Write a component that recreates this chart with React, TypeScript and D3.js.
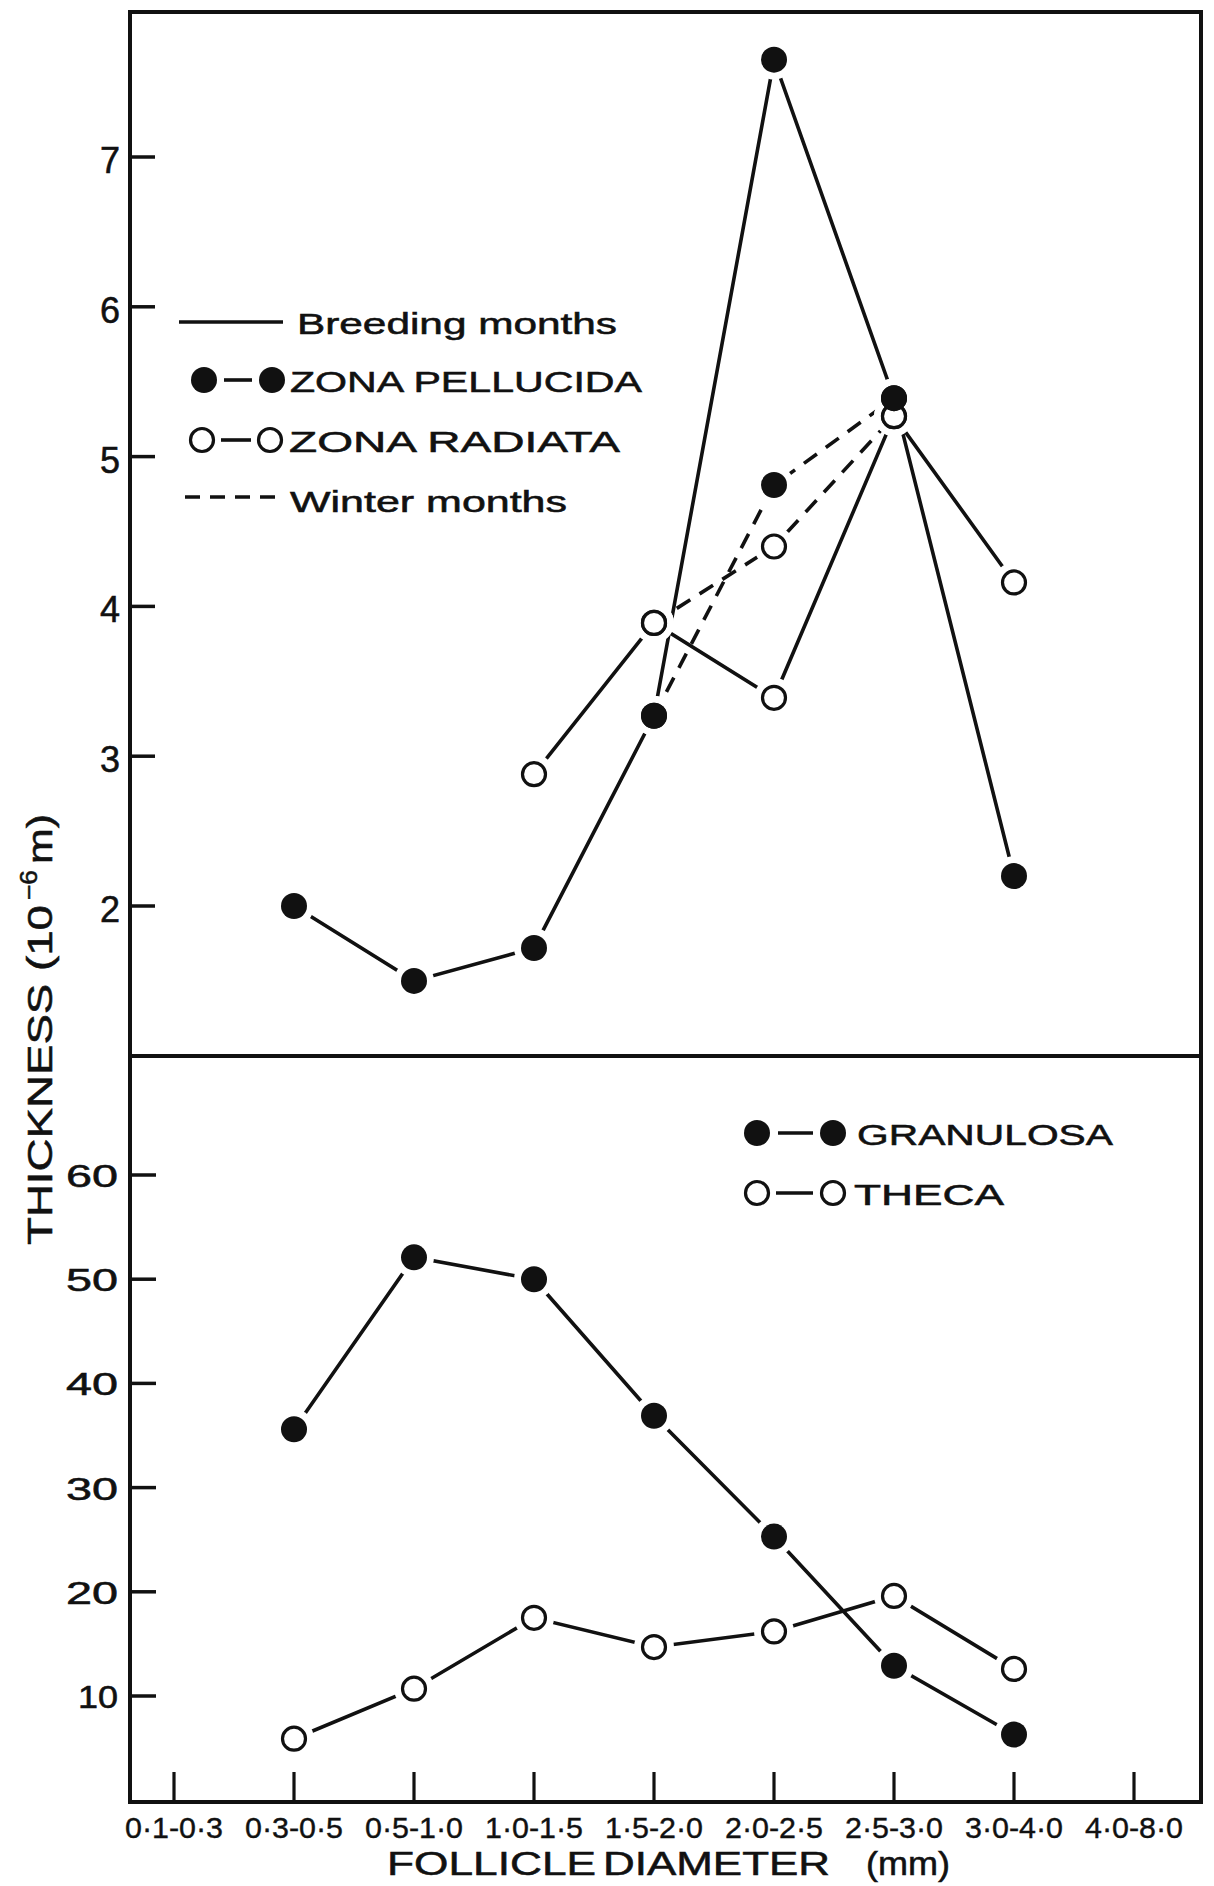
import React from "react";
import * as d3 from "d3";

// ---------- DATA ----------
const categories = ["0·1-0·3", "0·3-0·5", "0·5-1·0", "1·0-1·5", "1·5-2·0", "2·0-2·5", "2·5-3·0", "3·0-4·0", "4·0-8·0"];
const pellucidaBreeding: (number | null)[] = [null, 2.0, 1.5, 1.72, 3.27, 7.65, 5.39, 2.2, null];
const radiataBreeding: (number | null)[] = [null, null, null, 2.88, 3.89, 3.39, 5.27, 4.16, null];
const pellucidaWinter: (number | null)[] = [null, null, null, null, 3.27, 4.81, 5.39, null, null];
const radiataWinter: (number | null)[] = [null, null, null, null, 3.89, 4.4, 5.27, null, null];
const granulosa: (number | null)[] = [null, 35.6, 52.1, 50.0, 36.9, 25.3, 12.9, 6.3, null];
const theca: (number | null)[] = [null, 5.9, 10.7, 17.5, 14.7, 16.2, 19.6, 12.6, null];
const upperTicks = [2, 3, 4, 5, 6, 7];
const lowerTicks = [10, 20, 30, 40, 50, 60];

// ---------- LAYOUT ----------
const W = 1214, H = 1886;
const L = 130, R = 1201, T = 12, M = 1056, B = 1802;
const FONT = "'Liberation Sans', Arial, Helvetica, sans-serif";
const INK = "#111";
const TS = 0.55; // text stroke for heavier ink

const x = d3.scalePoint<string>().domain(categories).range([174, 1134]);
const yTop = d3.scaleLinear().domain([2, 7]).range([906, 157]);
const yBot = d3.scaleLinear().domain([10, 60]).range([1696, 1175]);

type Pt = { c: string; v: number };
const toPts = (arr: (number | null)[]): Pt[] =>
  arr.map((v, i) => (v == null ? null : { c: categories[i], v })).filter(Boolean) as Pt[];

function seriesPath(arr: (number | null)[], y: d3.ScaleLinear<number, number>) {
  const line = d3
    .line<number | null>()
    .defined((d) => d != null)
    .x((_, i) => x(categories[i]) as number)
    .y((d) => y(d as number));
  return line(arr) || "";
}

const RF = 13; // filled radius
const RO = 11.5; // open radius

function Markers({ arr, y, filled }: { arr: (number | null)[]; y: d3.ScaleLinear<number, number>; filled: boolean }) {
  return (
    <g>
      {toPts(arr).map((p, i) => (
        <circle
          key={i}
          cx={x(p.c)}
          cy={y(p.v)}
          r={filled ? RF : RO}
          fill={filled ? INK : "#fff"}
          stroke={INK}
          strokeWidth={filled ? 0 : 3.2}
        />
      ))}
    </g>
  );
}

function Halos({ arr, y }: { arr: (number | null)[]; y: d3.ScaleLinear<number, number> }) {
  return (
    <g>
      {toPts(arr).map((p, i) => (
        <circle key={i} cx={x(p.c)} cy={y(p.v)} r={RF + 7} fill="#fff" />
      ))}
    </g>
  );
}

function LegendText({ x0, y0, text, len, size = 30 }: { x0: number; y0: number; text: string; len: number; size?: number }) {
  return (
    <text x={x0} y={y0} fontSize={size} fontFamily={FONT} fill={INK} stroke={INK} strokeWidth={TS} textLength={len} lengthAdjust="spacingAndGlyphs">
      {text}
    </text>
  );
}

export default function App() {
  const upperAll = [pellucidaBreeding, radiataBreeding, pellucidaWinter, radiataWinter];
  const lowerAll = [granulosa, theca];
  return (
    <svg
      width={W}
      height={H}
      viewBox={`0 0 ${W} ${H}`}
      style={{ position: "absolute", left: 0, top: 0, background: "#fff" }}
    >
      <rect x={0} y={0} width={W} height={H} fill="#fff" />

      {/* frame */}
      <g stroke={INK} strokeWidth={4} fill="none" strokeLinecap="square">
        <line x1={L} y1={T} x2={R} y2={T} />
        <line x1={L} y1={T} x2={L} y2={B} />
        <line x1={R} y1={T} x2={R} y2={B} />
        <line x1={L} y1={B} x2={R} y2={B} />
        <line x1={L} y1={M} x2={R} y2={M} />
      </g>

      {/* upper y ticks */}
      <g>
        {upperTicks.map((t) => (
          <g key={t}>
            <line x1={L} x2={L + 25} y1={yTop(t)} y2={yTop(t)} stroke={INK} strokeWidth={3.5} />
            <text x={120} y={yTop(t) + 16} fontSize={36} fontFamily={FONT} fill={INK} stroke={INK} strokeWidth={TS} textAnchor="end">
              {t}
            </text>
          </g>
        ))}
      </g>

      {/* lower y ticks */}
      <g>
        {lowerTicks.map((t) => (
          <g key={t}>
            <line x1={L} x2={L + 26} y1={yBot(t)} y2={yBot(t)} stroke={INK} strokeWidth={3.5} />
            <text
              x={118}
              y={yBot(t) + 12}
              fontSize={31}
              fontFamily={FONT}
              fill={INK}
              stroke={INK}
              strokeWidth={TS}
              textAnchor="end"
              textLength={t === 10 ? 40 : 52}
              lengthAdjust="spacingAndGlyphs"
            >
              {t}
            </text>
          </g>
        ))}
      </g>

      {/* x ticks */}
      <g>
        {categories.map((c) => (
          <g key={c}>
            <line x1={x(c)} x2={x(c)} y1={B} y2={B - 30} stroke={INK} strokeWidth={3.2} />
            <text x={x(c)} y={1838} fontSize={30} fontFamily={FONT} fill={INK} stroke={INK} strokeWidth={0.4} textAnchor="middle" textLength={98} lengthAdjust="spacingAndGlyphs">
              {c}
            </text>
          </g>
        ))}
      </g>

      {/* x title */}
      <g fontFamily={FONT} fill={INK} stroke={INK} strokeWidth={TS} fontSize={34}>
        <text x={387} y={1875} textLength={209} lengthAdjust="spacingAndGlyphs">FOLLICLE</text>
        <text x={603} y={1875} textLength={227} lengthAdjust="spacingAndGlyphs">DIAMETER</text>
        <text x={866} y={1875} textLength={84} lengthAdjust="spacingAndGlyphs">(mm)</text>
      </g>

      {/* y title */}
      <g transform="translate(52,1245) rotate(-90)" fontFamily={FONT} fill={INK} stroke={INK} strokeWidth={TS}>
        <text x={0} y={0} fontSize={35} textLength={340} lengthAdjust="spacingAndGlyphs">THICKNESS (10</text>
        <text x={345} y={-15} fontSize={24} textLength={30} lengthAdjust="spacingAndGlyphs">−6</text>
        <text x={381} y={0} fontSize={35} textLength={50} lengthAdjust="spacingAndGlyphs">m)</text>
      </g>

      {/* upper lines */}
      <g fill="none" stroke={INK} strokeWidth={3.6}>
        <path d={seriesPath(pellucidaBreeding, yTop)} />
        <path d={seriesPath(radiataBreeding, yTop)} />
        <path d={seriesPath(pellucidaWinter, yTop)} strokeDasharray="16 11" />
        <path d={seriesPath(radiataWinter, yTop)} strokeDasharray="16 11" />
      </g>
      {/* lower lines */}
      <g fill="none" stroke={INK} strokeWidth={3.6}>
        <path d={seriesPath(granulosa, yBot)} />
        <path d={seriesPath(theca, yBot)} />
      </g>

      {/* halos */}
      {upperAll.map((a, i) => (
        <Halos key={"hu" + i} arr={a} y={yTop} />
      ))}
      {lowerAll.map((a, i) => (
        <Halos key={"hl" + i} arr={a} y={yBot} />
      ))}

      {/* markers */}
      <Markers arr={radiataBreeding} y={yTop} filled={false} />
      <Markers arr={radiataWinter} y={yTop} filled={false} />
      <Markers arr={pellucidaBreeding} y={yTop} filled={true} />
      <Markers arr={pellucidaWinter} y={yTop} filled={true} />
      <Markers arr={theca} y={yBot} filled={false} />
      <Markers arr={granulosa} y={yBot} filled={true} />

      {/* upper legend */}
      <g>
        <line x1={179} x2={283} y1={322} y2={322} stroke={INK} strokeWidth={3.6} />
        <LegendText x0={297} y0={334} text="Breeding months" len={320} />

        <circle cx={204} cy={380} r={RF} fill={INK} />
        <line x1={224} x2={252} y1={380} y2={380} stroke={INK} strokeWidth={3.6} />
        <circle cx={272} cy={380} r={RF} fill={INK} />
        <LegendText x0={290} y0={392} text="ZONA PELLUCIDA" len={352} />

        <circle cx={202} cy={440} r={RO} fill="#fff" stroke={INK} strokeWidth={3.2} />
        <line x1={221} x2={251} y1={440} y2={440} stroke={INK} strokeWidth={3.6} />
        <circle cx={270} cy={440} r={RO} fill="#fff" stroke={INK} strokeWidth={3.2} />
        <LegendText x0={289} y0={452} text="ZONA RADIATA" len={331} />

        <line x1={185} x2={285} y1={497} y2={497} stroke={INK} strokeWidth={3.6} strokeDasharray="15 10" />
        <LegendText x0={290} y0={512} text="Winter months" len={277} />
      </g>

      {/* lower legend */}
      <g>
        <circle cx={757} cy={1133} r={RF} fill={INK} />
        <line x1={778} x2={813} y1={1133} y2={1133} stroke={INK} strokeWidth={3.6} />
        <circle cx={833} cy={1133} r={RF} fill={INK} />
        <LegendText x0={857} y0={1145} text="GRANULOSA" len={256} />

        <circle cx={757} cy={1193} r={RO} fill="#fff" stroke={INK} strokeWidth={3.2} />
        <line x1={776} x2={813} y1={1193} y2={1193} stroke={INK} strokeWidth={3.6} />
        <circle cx={833} cy={1193} r={RO} fill="#fff" stroke={INK} strokeWidth={3.2} />
        <LegendText x0={854} y0={1205} text="THECA" len={150} />
      </g>
    </svg>
  );
}
